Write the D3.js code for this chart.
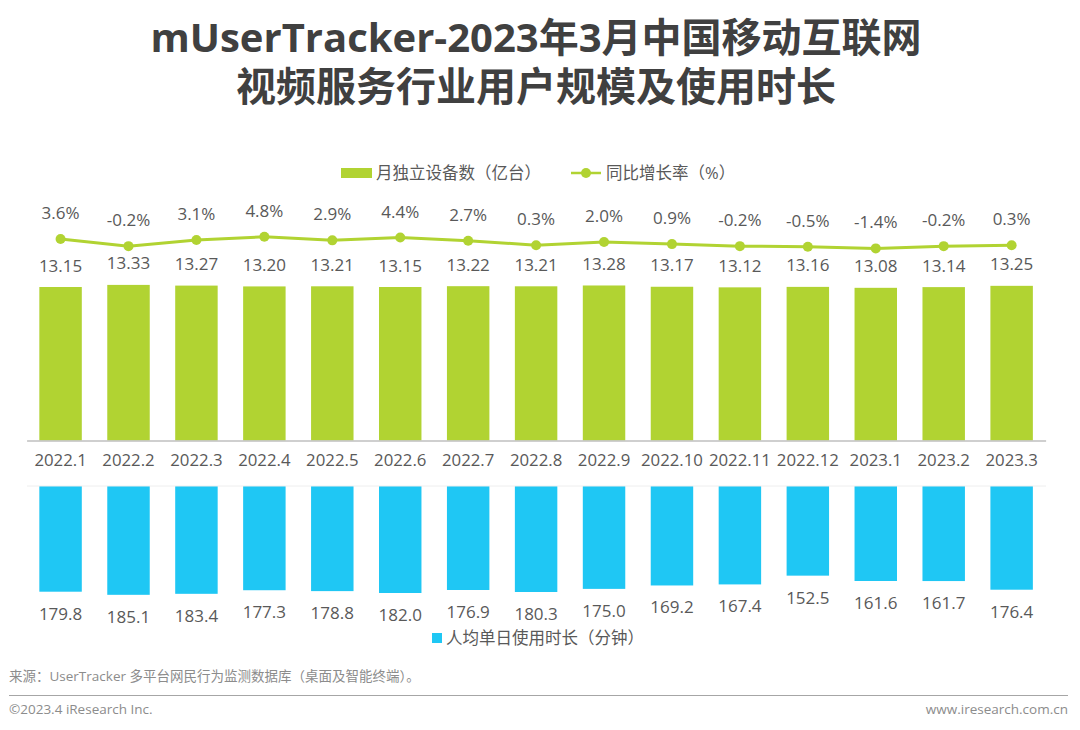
<!DOCTYPE html>
<html>
<head>
<meta charset="utf-8">
<script src="https://cdn.jsdelivr.net/npm/d3@7"></script>
<style>
html, body { margin: 0; padding: 0; background: #fff; }
svg { display: block; }
text { font-family: "Open Sans", "Noto Sans CJK SC", sans-serif; fill: #595959; }
.title { font-size: 40px; font-weight: 700; fill: #404040; text-anchor: middle; }
.val { font-size: 17px; text-anchor: middle; }
.legend { font-size: 16.5px; }
.foot { font-size: 13.5px; fill: #8c8c8c; }
</style>
</head>
<body>
<svg id="chart" width="1080" height="730"></svg>
<script>
const months = ['2022.1','2022.2','2022.3','2022.4','2022.5','2022.6','2022.7','2022.8','2022.9','2022.10','2022.11','2022.12','2023.1','2023.2','2023.3']
const devices = [13.15,13.33,13.27,13.20,13.21,13.15,13.22,13.21,13.28,13.17,13.12,13.16,13.08,13.14,13.25]
const growth = [3.6,-0.2,3.1,4.8,2.9,4.4,2.7,0.3,2.0,0.9,-0.2,-0.5,-1.4,-0.2,0.3]
const minutes = [179.8,185.1,183.4,177.3,178.8,182.0,176.9,180.3,175.0,169.2,167.4,152.5,161.6,161.7,176.4]

const green = '#b1d332'
const blue = '#1fc7f4'

let svg = d3.select('#chart')

let x = d3.scaleBand().domain(months).range([26.6, 1045.6]).paddingInner(0.375).paddingOuter(0.1875)
let yTop = d3.scaleLinear().domain([0, 13.15]).range([440.5, 287])
let yBottom = d3.scaleLinear().domain([0, 179.8]).range([486, 591.7])
let yLine = d3.scaleLinear().domain([-1.4, 4.8]).range([248.4, 236.8])

let cx = d => x(d) + x.bandwidth() / 2

// TITLE
let title = svg.append('text').attr('class', 'title')
title.append('tspan').attr('x', 536).attr('y', 52).text('mUserTracker-2023年3月中国移动互联网')
title.append('tspan').attr('x', 536).attr('y', 101).text('视频服务行业用户规模及使用时长')

// LEGEND
svg.append('rect').attr('x', 341).attr('y', 168).attr('width', 31).attr('height', 10).style('fill', green)
svg.append('text').attr('class', 'legend').attr('x', 376).attr('y', 178.5).text('月独立设备数（亿台）')
svg.append('line').attr('x1', 571).attr('x2', 601).attr('y1', 173).attr('y2', 173).style('stroke', green).style('stroke-width', 2.5)
svg.append('circle').attr('cx', 586).attr('cy', 173).attr('r', 5).style('fill', green)
svg.append('text').attr('class', 'legend').attr('x', 606).attr('y', 178.5).text('同比增长率（%）')
svg.append('rect').attr('x', 432).attr('y', 633).attr('width', 10).attr('height', 10).style('fill', blue)
svg.append('text').attr('class', 'legend').attr('x', 446).attr('y', 643.5).text('人均单日使用时长（分钟）')

// BARS
svg.append('g').selectAll('rect').data(months).enter().append('rect')
.attr('x', d => x(d))
.attr('width', x.bandwidth())
.attr('y', (d, i) => yTop(devices[i]))
.attr('height', (d, i) => yTop(0) - yTop(devices[i]))
.style('fill', green)

svg.append('g').selectAll('rect').data(months).enter().append('rect')
.attr('x', d => x(d))
.attr('width', x.bandwidth())
.attr('y', yBottom(0))
.attr('height', (d, i) => yBottom(minutes[i]) - yBottom(0))
.style('fill', blue)

svg.append('line').attr('x1', 27).attr('x2', 1046).attr('y1', 486).attr('y2', 486).style('stroke', '#eeeeee')

// AXIS
let axis = svg.append('g')
.attr('transform', 'translate(0,440.5)')
.call(d3.axisBottom(x).tickSize(0).tickPadding(14))
axis.select('.domain').style('stroke', '#bfbfbf').style('stroke-width', 1.5)
axis.selectAll('text').style('font-size', '16.8px').style('font-family', '"Open Sans", "Noto Sans CJK SC", sans-serif').style('fill', '#595959')

// LINE
let line = d3.line().x(d => cx(d)).y((d, i) => yLine(growth[i]))
svg.append('path').datum(months).attr('d', line)
.style('fill', 'none').style('stroke', green).style('stroke-width', 3)
svg.append('g').selectAll('circle').data(months).enter().append('circle')
.attr('cx', cx)
.attr('cy', (d, i) => yLine(growth[i]))
.attr('r', 5)
.style('fill', green)

// LABELS
svg.append('g').selectAll('text').data(months).enter().append('text')
.attr('class', 'val')
.attr('x', cx)
.attr('y', (d, i) => yLine(growth[i]) - 20)
.text((d, i) => growth[i].toFixed(1) + '%')

svg.append('g').selectAll('text').data(months).enter().append('text')
.attr('class', 'val')
.attr('x', cx)
.attr('y', (d, i) => yTop(devices[i]) - 15.5)
.text((d, i) => devices[i].toFixed(2))

svg.append('g').selectAll('text').data(months).enter().append('text')
.attr('class', 'val')
.attr('x', cx)
.attr('y', (d, i) => yBottom(minutes[i]) + 28)
.text((d, i) => minutes[i].toFixed(1))

// FOOTER
svg.append('text').attr('class', 'foot').attr('x', 9).attr('y', 681).text('来源：UserTracker 多平台网民行为监测数据库（桌面及智能终端）。')
svg.append('line').attr('x1', 9).attr('x2', 1068).attr('y1', 695.5).attr('y2', 695.5).style('stroke', '#a6a6a6').style('stroke-width', 1.2)
svg.append('text').attr('class', 'foot').attr('x', 9).attr('y', 714).text('©2023.4 iResearch Inc.')
svg.append('text').attr('class', 'foot').attr('x', 1068).attr('y', 714).style('text-anchor', 'end').text('www.iresearch.com.cn')
</script>
</body>
</html>
